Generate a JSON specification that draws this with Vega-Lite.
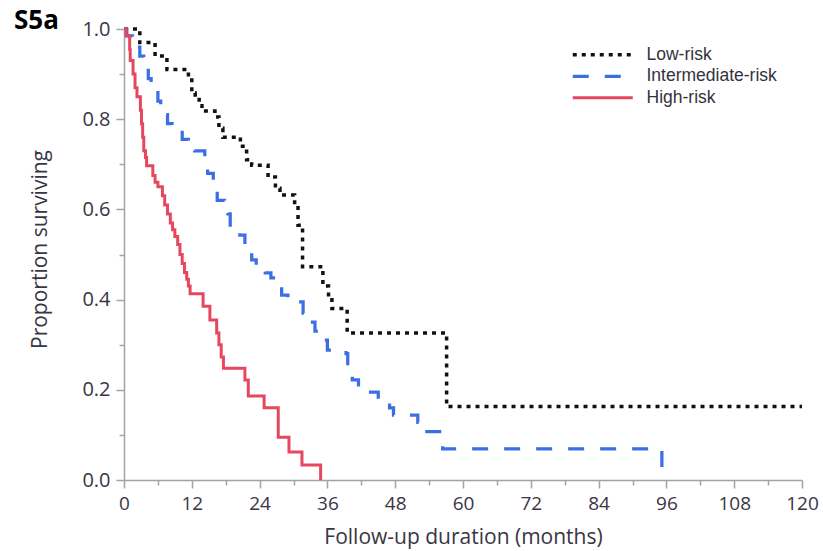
{
  "$schema": "https://vega.github.io/schema/vega-lite/v6.json",
  "autosize": "none",
  "width": 678,
  "height": 451,
  "padding": {"left": 124, "top": 29, "right": 21, "bottom": 71},
  "background": "white",
  "title": {"text": "S5a", "anchor": "start", "frame": "group", "font": "Open Sans", "fontSize": 26, "fontWeight": "bold", "color": "#000000", "dx": -110, "dy": 36, "baseline": "alphabetic", "offset": 0},
  "config": {"view": {"stroke": null}},
  "data": {"values": [
    {"group": "Low-risk", "t": 0, "s": 1.0},
    {"group": "Low-risk", "t": 2.8, "s": 0.97},
    {"group": "Low-risk", "t": 5.5, "s": 0.94},
    {"group": "Low-risk", "t": 7.6, "s": 0.91},
    {"group": "Low-risk", "t": 11.4, "s": 0.887},
    {"group": "Low-risk", "t": 12.0, "s": 0.858},
    {"group": "Low-risk", "t": 12.6, "s": 0.848},
    {"group": "Low-risk", "t": 13.3, "s": 0.83},
    {"group": "Low-risk", "t": 13.8, "s": 0.818},
    {"group": "Low-risk", "t": 16.1, "s": 0.805},
    {"group": "Low-risk", "t": 16.8, "s": 0.78},
    {"group": "Low-risk", "t": 17.5, "s": 0.76},
    {"group": "Low-risk", "t": 20.6, "s": 0.74},
    {"group": "Low-risk", "t": 21.7, "s": 0.71},
    {"group": "Low-risk", "t": 22.6, "s": 0.698},
    {"group": "Low-risk", "t": 25.5, "s": 0.672},
    {"group": "Low-risk", "t": 26.8, "s": 0.647},
    {"group": "Low-risk", "t": 27.6, "s": 0.632},
    {"group": "Low-risk", "t": 30.2, "s": 0.61},
    {"group": "Low-risk", "t": 30.8, "s": 0.565},
    {"group": "Low-risk", "t": 31.6, "s": 0.473},
    {"group": "Low-risk", "t": 35.2, "s": 0.43},
    {"group": "Low-risk", "t": 36.2, "s": 0.405},
    {"group": "Low-risk", "t": 36.8, "s": 0.38},
    {"group": "Low-risk", "t": 39.5, "s": 0.326},
    {"group": "Low-risk", "t": 57.1, "s": 0.163},
    {"group": "Low-risk", "t": 120, "s": 0.163},
    {"group": "Intermediate-risk", "t": 0, "s": 1.0},
    {"group": "Intermediate-risk", "t": 0.5, "s": 0.985},
    {"group": "Intermediate-risk", "t": 1.5, "s": 0.96},
    {"group": "Intermediate-risk", "t": 2.8, "s": 0.94},
    {"group": "Intermediate-risk", "t": 3.5, "s": 0.915},
    {"group": "Intermediate-risk", "t": 4.3, "s": 0.89},
    {"group": "Intermediate-risk", "t": 4.8, "s": 0.865},
    {"group": "Intermediate-risk", "t": 6.0, "s": 0.84},
    {"group": "Intermediate-risk", "t": 6.5, "s": 0.81},
    {"group": "Intermediate-risk", "t": 7.7, "s": 0.79},
    {"group": "Intermediate-risk", "t": 8.5, "s": 0.775},
    {"group": "Intermediate-risk", "t": 10.3, "s": 0.755},
    {"group": "Intermediate-risk", "t": 11.4, "s": 0.743},
    {"group": "Intermediate-risk", "t": 12.5, "s": 0.73},
    {"group": "Intermediate-risk", "t": 14.3, "s": 0.705},
    {"group": "Intermediate-risk", "t": 14.8, "s": 0.68},
    {"group": "Intermediate-risk", "t": 15.8, "s": 0.643},
    {"group": "Intermediate-risk", "t": 16.5, "s": 0.62},
    {"group": "Intermediate-risk", "t": 17.8, "s": 0.6},
    {"group": "Intermediate-risk", "t": 18.4, "s": 0.59},
    {"group": "Intermediate-risk", "t": 18.8, "s": 0.565},
    {"group": "Intermediate-risk", "t": 20.5, "s": 0.543},
    {"group": "Intermediate-risk", "t": 21.4, "s": 0.52},
    {"group": "Intermediate-risk", "t": 22.6, "s": 0.488},
    {"group": "Intermediate-risk", "t": 23.4, "s": 0.47},
    {"group": "Intermediate-risk", "t": 25.0, "s": 0.459},
    {"group": "Intermediate-risk", "t": 26.0, "s": 0.448},
    {"group": "Intermediate-risk", "t": 27.3, "s": 0.43},
    {"group": "Intermediate-risk", "t": 27.9, "s": 0.41},
    {"group": "Intermediate-risk", "t": 29.0, "s": 0.395},
    {"group": "Intermediate-risk", "t": 31.7, "s": 0.37},
    {"group": "Intermediate-risk", "t": 32.2, "s": 0.35},
    {"group": "Intermediate-risk", "t": 33.8, "s": 0.33},
    {"group": "Intermediate-risk", "t": 34.5, "s": 0.32},
    {"group": "Intermediate-risk", "t": 35.3, "s": 0.31},
    {"group": "Intermediate-risk", "t": 36.0, "s": 0.288},
    {"group": "Intermediate-risk", "t": 39.3, "s": 0.28},
    {"group": "Intermediate-risk", "t": 39.6, "s": 0.248},
    {"group": "Intermediate-risk", "t": 40.4, "s": 0.222},
    {"group": "Intermediate-risk", "t": 41.5, "s": 0.195},
    {"group": "Intermediate-risk", "t": 45.0, "s": 0.173},
    {"group": "Intermediate-risk", "t": 47.0, "s": 0.16},
    {"group": "Intermediate-risk", "t": 47.7, "s": 0.144},
    {"group": "Intermediate-risk", "t": 52.0, "s": 0.128},
    {"group": "Intermediate-risk", "t": 52.3, "s": 0.107},
    {"group": "Intermediate-risk", "t": 56.4, "s": 0.069},
    {"group": "Intermediate-risk", "t": 95.2, "s": 0.0},
    {"group": "High-risk", "t": 0, "s": 1.0},
    {"group": "High-risk", "t": 0.35, "s": 0.985},
    {"group": "High-risk", "t": 1.0, "s": 0.955},
    {"group": "High-risk", "t": 1.1, "s": 0.93},
    {"group": "High-risk", "t": 1.6, "s": 0.9},
    {"group": "High-risk", "t": 1.95, "s": 0.87},
    {"group": "High-risk", "t": 2.3, "s": 0.85},
    {"group": "High-risk", "t": 2.9, "s": 0.82},
    {"group": "High-risk", "t": 3.1, "s": 0.79},
    {"group": "High-risk", "t": 3.3, "s": 0.76},
    {"group": "High-risk", "t": 3.5, "s": 0.73},
    {"group": "High-risk", "t": 3.8, "s": 0.715},
    {"group": "High-risk", "t": 4.0, "s": 0.697},
    {"group": "High-risk", "t": 5.1, "s": 0.675},
    {"group": "High-risk", "t": 5.5, "s": 0.66},
    {"group": "High-risk", "t": 6.0, "s": 0.65},
    {"group": "High-risk", "t": 6.8, "s": 0.63},
    {"group": "High-risk", "t": 7.2, "s": 0.61},
    {"group": "High-risk", "t": 7.7, "s": 0.59},
    {"group": "High-risk", "t": 8.2, "s": 0.57},
    {"group": "High-risk", "t": 8.6, "s": 0.555},
    {"group": "High-risk", "t": 9.0, "s": 0.54},
    {"group": "High-risk", "t": 9.5, "s": 0.522},
    {"group": "High-risk", "t": 9.9, "s": 0.5},
    {"group": "High-risk", "t": 10.3, "s": 0.48},
    {"group": "High-risk", "t": 10.7, "s": 0.46},
    {"group": "High-risk", "t": 11.1, "s": 0.445},
    {"group": "High-risk", "t": 11.4, "s": 0.43},
    {"group": "High-risk", "t": 11.7, "s": 0.413},
    {"group": "High-risk", "t": 14.0, "s": 0.385},
    {"group": "High-risk", "t": 15.2, "s": 0.355},
    {"group": "High-risk", "t": 16.4, "s": 0.326},
    {"group": "High-risk", "t": 16.8, "s": 0.3},
    {"group": "High-risk", "t": 17.2, "s": 0.273},
    {"group": "High-risk", "t": 17.6, "s": 0.248},
    {"group": "High-risk", "t": 21.4, "s": 0.222},
    {"group": "High-risk", "t": 22.0, "s": 0.186},
    {"group": "High-risk", "t": 24.8, "s": 0.16},
    {"group": "High-risk", "t": 27.3, "s": 0.095},
    {"group": "High-risk", "t": 29.2, "s": 0.062},
    {"group": "High-risk", "t": 31.5, "s": 0.033},
    {"group": "High-risk", "t": 34.8, "s": 0.0}
  ]},
  "mark": {"type": "line", "interpolate": "step-after", "clip": false},
  "encoding": {
    "x": {
      "field": "t", "type": "quantitative",
      "scale": {"domain": [0, 120], "nice": false},
      "axis": {
        "title": "Follow-up duration (months)",
        "values": [0, 6, 12, 18, 24, 30, 36, 42, 48, 54, 60, 66, 72, 78, 84, 90, 96, 102, 108, 114, 120],
        "labelExpr": "datum.value % 12 === 0 ? datum.label : ''",
        "tickSize": {"signal": "datum.value % 12 === 0 ? 8 : 5"},
        "grid": false,
        "domainColor": "#a3a3a3", "tickColor": "#a3a3a3", "domainWidth": 1.5, "tickWidth": 1.5,
        "labelFont": "Open Sans", "labelFontSize": 19, "labelColor": "#3a3545", "labelPadding": 6, "labelFlush": false, "labelOverlap": false,
        "titleFont": "Open Sans", "titleFontSize": 21, "titleFontWeight": "normal", "titleColor": "#3a3545",
        "titleBaseline": "middle", "titleY": 57
      }
    },
    "y": {
      "field": "s", "type": "quantitative",
      "scale": {"domain": [0, 1], "nice": false},
      "axis": {
        "title": "Proportion surviving",
        "values": [0, 0.1, 0.2, 0.3, 0.4, 0.5, 0.6, 0.7, 0.8, 0.9, 1.0],
        "labelExpr": "round(datum.value * 10) % 2 === 0 ? format(datum.value, '.1f') : ''",
        "tickSize": {"signal": "round(datum.value * 10) % 2 === 0 ? 8 : 5"},
        "grid": false,
        "domainColor": "#a3a3a3", "tickColor": "#a3a3a3", "domainWidth": 1.5, "tickWidth": 1.5,
        "labelFont": "Open Sans", "labelFontSize": 20, "labelColor": "#3a3545", "labelPadding": 6, "labelFlush": false, "labelOverlap": false,
        "titleFont": "Open Sans", "titleFontSize": 21, "titleFontWeight": "normal", "titleColor": "#3a3545",
        "titleBaseline": "middle", "titleX": -84, "titleY": 220, "titleAngle": -90
      }
    },
    "color": {
      "field": "group", "type": "nominal",
      "scale": {"domain": ["Low-risk", "Intermediate-risk", "High-risk"], "range": ["#111111", "#3b6fe3", "#e5485e"]},
      "legend": {
        "title": null, "orient": "none", "legendX": 470, "legendY": 17, "padding": 0,
        "symbolType": "M-6,0H6", "symbolSize": 100, "symbolStrokeWidth": 3,
        "labelFont": "Liberation Sans", "labelFontSize": 17.5, "labelColor": "#333340", "labelOffset": 35,
        "rowPadding": 2.5,
        "encode": {"symbols": {"update": {
          "strokeDash": {"condition": [{"test": "datum.value === 'Intermediate-risk'", "value": [8, 4.5]}, {"test": "datum.value === 'High-risk'", "value": [1, 0]}], "value": [3.5, 4.5]},
          "strokeWidth": {"condition": {"test": "datum.value === 'High-risk'", "value": 2.5}, "value": 3.5}
        }}}
      }
    },
    "strokeDash": {
      "field": "group", "type": "nominal",
      "scale": {"domain": ["Low-risk", "Intermediate-risk", "High-risk"], "range": [[4, 5], [16, 16], [1, 0]]},
      "legend": null
    },
    "strokeWidth": {
      "field": "group", "type": "nominal",
      "scale": {"domain": ["Low-risk", "Intermediate-risk", "High-risk"], "range": [3.5, 3, 2]},
      "legend": null
    }
  }
}
